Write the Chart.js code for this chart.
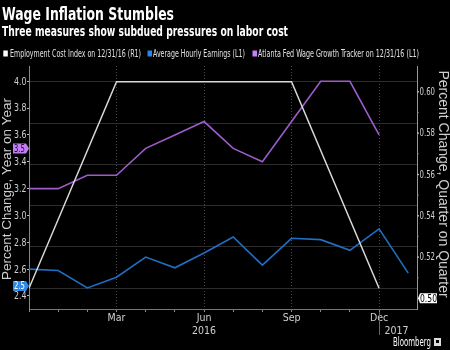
<!DOCTYPE html>
<html>
<head>
<meta charset="utf-8">
<title>Wage Inflation Stumbles</title>
<script src="https://cdn.jsdelivr.net/npm/chart.js@4.4.0/dist/chart.umd.min.js"></script>
<style>
  html, body { margin: 0; padding: 0; background: #000; }
  #wrap { width: 450px; height: 350px; }
</style>
</head>
<body>
<div id="wrap"><canvas id="wage-chart" width="450" height="350"></canvas></div>
<script>
// one slot per month, Dec 2015 .. Jan 2017
var months = ['Dec', 'Jan', 'Feb', 'Mar', 'Apr', 'May', 'Jun', 'Jul', 'Aug', 'Sep', 'Oct', 'Nov', 'Dec', 'Jan'];
var monthTicks = [0, 1, 2, 3, 4, 5, 6, 7, 8, 9, 10, 11, 12];

// Average Hourly Earnings, % y/y (L1)
var ahe = [2.60, 2.59, 2.46, 2.54, 2.69, 2.61, 2.72, 2.84, 2.63, 2.83, 2.82, 2.74, 2.90, 2.57];
// Atlanta Fed Wage Growth Tracker, % y/y (L1)
var atlFed = [3.2, 3.2, 3.3, 3.3, 3.5, 3.6, 3.7, 3.5, 3.4, 3.7, 4.0, 4.0, 3.6];
// Employment Cost Index, % q/q (R1), quarterly
var eciMonths = [0, 3, 6, 9, 12];
var eci = [0.50, 0.60, 0.60, 0.60, 0.50];

var leftTicks = [2.4, 2.6, 2.8, 3.0, 3.2, 3.4, 3.6, 3.8, 4.0];
var rightTicks = [0.50, 0.52, 0.54, 0.56, 0.58, 0.60];
var xLabels = { 3: 'Mar', 6: ['Jun', '2016'], 9: 'Sep', 12: 'Dec' };

var NARROW = '"Liberation Sans Narrow", "DejaVu Sans Condensed", "Liberation Sans", sans-serif';
var WHITE = '#d9d9d9', BLUE = '#1f6fc2', PURPLE = '#9d5ccb';

function pts(xs, ys) {
    return ys.map(function (v, i) { return { x: xs[i], y: v }; });
}

function txt(ctx, s, x, y, font, color, align, maxW, base) {
    ctx.font = font;
    ctx.fillStyle = color;
    ctx.textAlign = align || 'left';
    ctx.textBaseline = base || 'alphabetic';
    if (maxW) ctx.fillText(s, x, y, maxW); else ctx.fillText(s, x, y);
}

function tag(ctx, s, x1, x2, y, fill, color, side) {
    ctx.fillStyle = fill;
    ctx.beginPath();
    if (side === 'right') {
        ctx.moveTo(x1, y - 5); ctx.lineTo(x2, y - 5); ctx.lineTo(x2 + 3, y);
        ctx.lineTo(x2, y + 5); ctx.lineTo(x1, y + 5);
    } else {
        ctx.moveTo(x1, y); ctx.lineTo(x1 + 2, y - 5); ctx.lineTo(x2, y - 5);
        ctx.lineTo(x2, y + 5); ctx.lineTo(x1 + 2, y + 5);
    }
    ctx.closePath();
    ctx.fill();
    var cx = (x1 + x2) / 2 + (side === 'right' ? 0 : 1);
    txt(ctx, s, cx, y + 0.5, '10.5px ' + NARROW, color, 'center', x2 - x1 - 2, 'middle');
}

var decorations = {
    id: 'decorations',
    beforeDraw: function (chart) {
        var ctx = chart.ctx;
        ctx.save();
        ctx.fillStyle = '#000';
        ctx.fillRect(0, 0, chart.width, chart.height);
        ctx.restore();
    },
    afterDraw: function (chart) {
        var ctx = chart.ctx;
        var yL = chart.scales.yL, yR = chart.scales.yR, x = chart.scales.x;
        ctx.save();

        txt(ctx, 'Wage Inflation Stumbles', 2, 20, 'bold 18px ' + NARROW, '#fff', 'left', 172);
        txt(ctx, 'Three measures show subdued pressures on labor cost', 2, 35.5, 'bold 13.5px ' + NARROW, '#fff', 'left', 286);

        // legend
        var legend = [
            { c: '#ffffff', sq: 3.3, tx: 10, w: 131, t: 'Employment Cost Index on 12/31/16 (R1)' },
            { c: '#2a84ea', sq: 147.5, tx: 153, w: 92, t: 'Average Hourly Earnings (L1)' },
            { c: '#c77dff', sq: 252.5, tx: 258, w: 161, t: 'Atlanta Fed Wage Growth Tracker on 12/31/16 (L1)' }
        ];
        legend.forEach(function (l) {
            ctx.fillStyle = l.c;
            ctx.fillRect(l.sq, 50.5, 4.5, 6);
            txt(ctx, l.t, l.tx, 57, '10.5px ' + NARROW, '#e0e0e0', 'left', l.w);
        });

        // axis titles
        ctx.save();
        ctx.translate(7.5, 189);
        ctx.rotate(-Math.PI / 2);
        txt(ctx, 'Percent Change, Year on Year', 0, 0, '13.5px "Liberation Sans", sans-serif', '#cfcfcf', 'center', 186, 'middle');
        ctx.restore();

        ctx.save();
        ctx.translate(443, 184);
        ctx.rotate(Math.PI / 2);
        txt(ctx, 'Percent Change, Quarter on Quarter', 0, 0, '14px "Liberation Sans", sans-serif', '#cfcfcf', 'center', 240, 'middle');
        ctx.restore();

        // left tick labels
        leftTicks.forEach(function (v) {
            txt(ctx, v.toFixed(1), 26.5, yL.getPixelForValue(v) + 0.5, '11px ' + NARROW, '#d0d0d0', 'right', 12.5, 'middle');
        });

        // right tick labels sit 10px under their grid lines, with dots beside them
        ctx.fillStyle = '#bbb';
        rightTicks.forEach(function (v, i) {
            var py = yR.getPixelForValue(v) + 10;
            if (v > 0.505) {
                ctx.fillStyle = '#bbb';
                ctx.fillRect(yR.left, py - 0.5, 2, 1.3);
                txt(ctx, v.toFixed(2), 419.5, py + 0.5, '11px ' + NARROW, '#d0d0d0', 'left', 15.5, 'middle');
            }
            if (i < rightTicks.length - 1) {
                ctx.fillStyle = '#999';
                ctx.fillRect(yR.left, yR.getPixelForValue(v + 0.01) + 9.5, 1.5, 1.2);
            }
        });

        // last value tags
        tag(ctx, '3.5', 13, 26, yL.getPixelForValue(3.5), '#c27ef2', '#1a1a1a', 'right');
        tag(ctx, '2.5', 13, 26, yL.getPixelForValue(2.5) + 3.5, '#2b8ae8', '#fff', 'right');
        tag(ctx, '0.50', 418, 437, yR.getPixelForValue(0.5) + 10, '#ffffff', '#000', 'left');

        // year marker and label
        var xd = x.getPixelForValue(12);
        ctx.strokeStyle = '#666';
        ctx.lineWidth = 1;
        ctx.beginPath();
        ctx.moveTo(Math.round(xd) + 0.5, x.top + 3);
        ctx.lineTo(Math.round(xd) + 0.5, 335);
        ctx.stroke();
        txt(ctx, '2017', x.getPixelForValue(12.6), 333.5, '10.5px ' + NARROW, '#d0d0d0', 'center');

        // source
        txt(ctx, 'Bloomberg', 393, 346, '11.5px ' + NARROW, '#fff', 'left', 38);
        ctx.fillStyle = '#ddd';
        ctx.fillRect(434, 338, 7, 8);
        ctx.fillStyle = '#000';
        ctx.fillRect(436, 340, 3, 3);

        ctx.restore();
    }
};

var chart = new Chart(document.getElementById('wage-chart'), {
    type: 'line',
    data: {
        datasets: [
            {
                label: 'Employment Cost Index on 12/31/16 (R1)',
                data: pts(eciMonths, eci),
                yAxisID: 'yR',
                borderColor: WHITE,
                borderWidth: 1.5,
                pointRadius: 0,
                tension: 0
            },
            {
                label: 'Average Hourly Earnings (L1)',
                data: pts(monthTicks.concat([13]), ahe),
                yAxisID: 'yL',
                borderColor: BLUE,
                borderWidth: 1.6,
                pointRadius: 0,
                tension: 0
            },
            {
                label: 'Atlanta Fed Wage Growth Tracker on 12/31/16 (L1)',
                data: pts(monthTicks, atlFed),
                yAxisID: 'yL',
                borderColor: PURPLE,
                borderWidth: 1.6,
                pointRadius: 0,
                tension: 0
            }
        ]
    },
    options: {
        responsive: false,
        animation: false,
        devicePixelRatio: 1,
        layout: { padding: { top: 66, left: 0, right: 0, bottom: 0 } },
        plugins: { legend: { display: false }, tooltip: { enabled: false } },
        scales: {
            x: {
                type: 'linear',
                min: 0,
                max: 13.3,
                afterBuildTicks: function (s) { s.ticks = monthTicks.map(function (v) { return { value: v }; }); },
                afterFit: function (s) { s.height = 41; },
                ticks: {
                    autoSkip: false,
                    maxRotation: 0,
                    padding: 0,
                    color: '#d0d0d0',
                    font: { family: NARROW, size: 10.5, lineHeight: 1.25 },
                    callback: function (v) { return xLabels[v] || ''; }
                },
                grid: {
                    color: function (c) { return c.tick && xLabels[c.tick.value] ? '#4a4a4a' : 'transparent'; },
                    tickColor: '#888',
                    tickLength: 3,
                    lineWidth: 1
                },
                border: { color: '#777', dash: [1, 2] }
            },
            yL: {
                type: 'linear',
                position: 'left',
                min: 2.303,
                max: 4.114,
                afterBuildTicks: function (s) { s.ticks = leftTicks.map(function (v) { return { value: v }; }); },
                afterFit: function (s) { s.width = 29; },
                ticks: { display: false },
                grid: { drawOnChartArea: false, tickLength: 2, tickColor: '#bbb' },
                border: { color: '#888' }
            },
            yR: {
                type: 'linear',
                position: 'right',
                min: 0.48998,
                max: 0.6076,
                afterBuildTicks: function (s) { s.ticks = rightTicks.map(function (v) { return { value: v }; }); },
                afterFit: function (s) { s.width = 33; },
                ticks: { display: false },
                grid: { color: '#2c2c2c', drawTicks: false },
                border: { color: '#999' }
            }
        }
    },
    plugins: [decorations]
});
</script>
</body>
</html>
